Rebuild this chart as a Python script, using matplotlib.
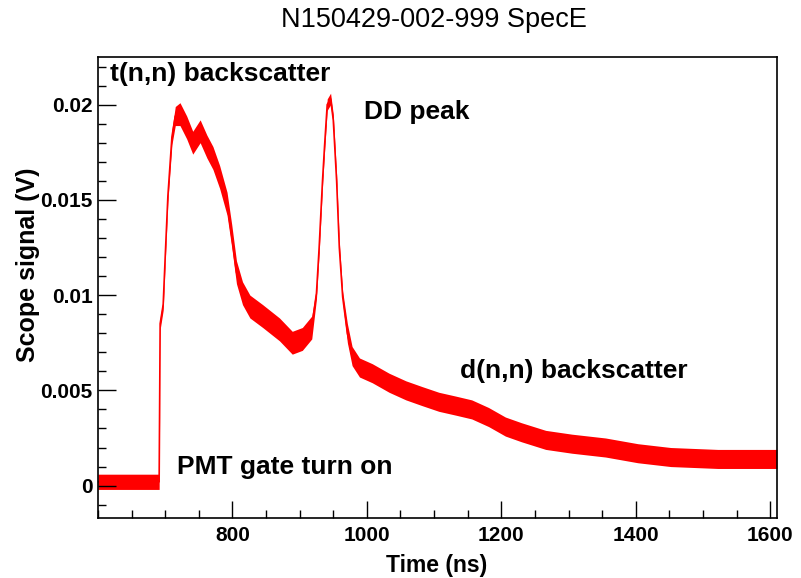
import numpy as np
import matplotlib
matplotlib.use("Agg")
import matplotlib.pyplot as plt
from matplotlib.ticker import MultipleLocator, FixedLocator, FixedFormatter

plt.rcParams['font.family'] = ['Liberation Sans', 'DejaVu Sans']

# trace (centre of the noisy band)
time_ns = [600, 691, 692.5, 697, 700, 704, 710, 715, 722, 732,
           741, 752, 762, 771, 781, 792, 799, 806, 815, 826,
           845, 870, 889, 904, 918, 925, 929, 934, 937, 941,
           946, 950, 955, 959, 964, 971, 978, 989, 1008, 1033,
           1058, 1082, 1107, 1132, 1156, 1181, 1206, 1230, 1266, 1305,
           1355, 1403, 1452, 1522, 1610]
signal_v = [0.0002, 0.0002, 0.0085, 0.0095, 0.0120, 0.0152, 0.0183, 0.0194, 0.0195, 0.0188,
            0.0180, 0.0186, 0.0178, 0.0172, 0.0162, 0.0148, 0.0131, 0.0112, 0.0101, 0.0094,
            0.0089, 0.0082, 0.0075, 0.0077, 0.0083, 0.0101, 0.0125, 0.0160, 0.0178, 0.0200,
            0.0203, 0.0192, 0.0160, 0.0125, 0.0099, 0.0080, 0.0068, 0.0062, 0.0059, 0.0054,
            0.0050, 0.0047, 0.0044, 0.0042, 0.0040, 0.0036, 0.0031, 0.0028, 0.0024, 0.0022,
            0.0020, 0.0017, 0.0015, 0.0014, 0.0014]
# half width of the noise band around the centre
noise_v = [0.0004, 0.0004, 0.0003, 0.0003, 0.0003, 0.0003, 0.0004, 0.0005,
           0.0006, 0.0006, 0.0006, 0.0006, 0.0006, 0.0006, 0.0006, 0.0006, 0.0006, 0.0006, 0.0006, 0.0006,
           0.0006, 0.0006, 0.0006, 0.0006, 0.0006,
           0.0003, 0.0003, 0.0003, 0.0003, 0.0003, 0.0003, 0.0003, 0.0003, 0.0003, 0.0003,
           0.0005, 0.0005, 0.0005, 0.0005, 0.0005, 0.0005, 0.0005, 0.0005, 0.0005, 0.0005,
           0.0005, 0.0005, 0.0005, 0.0005, 0.0005, 0.0005, 0.0005, 0.0005, 0.0005, 0.0005]

x_ticks = [800, 1000, 1200, 1400, 1600]
y_ticks = [0, 0.005, 0.01, 0.015, 0.02]
y_tick_labels = ['0', '0.005', '0.01', '0.015', '0.02']

notes = ['t(n,n) backscatter', 'DD peak', 'd(n,n) backscatter', 'PMT gate turn on']
note_x = [618, 995, 1138, 718]
note_y = [0.0216, 0.0196, 0.0060, 0.0010]

t = np.array(time_ns)
v = np.array(signal_v)
n = np.array(noise_v)

fig = plt.figure(figsize=(8.01, 5.78), dpi=100)
ax = fig.add_axes([0.1223, 0.1038, 0.8477, 0.7976])

ax.fill_between(t, v - n, v + n, color='red', linewidth=0)
ax.plot(t, v, color='red', linewidth=1.2)

ax.set_xlim(600, 1610)
ax.set_ylim(-0.0017, 0.0225)

ax.xaxis.set_major_locator(FixedLocator(x_ticks))
ax.xaxis.set_minor_locator(MultipleLocator(50))
ax.yaxis.set_major_locator(FixedLocator(y_ticks))
ax.yaxis.set_major_formatter(FixedFormatter(y_tick_labels))
ax.yaxis.set_minor_locator(MultipleLocator(0.001))

ax.tick_params(which='both', direction='in', top=False, right=False, width=1)
ax.tick_params(axis='x', which='major', length=12, pad=6, labelsize=15)
ax.tick_params(axis='x', which='minor', length=6)
ax.tick_params(axis='y', which='major', length=13, pad=4, labelsize=15)
ax.tick_params(axis='y', which='minor', length=6)
for lab in ax.get_xticklabels() + ax.get_yticklabels():
    lab.set_fontweight('bold')
for s in ax.spines.values():
    s.set_linewidth(1.2)

for txt, x, y in zip(notes, note_x, note_y):
    ax.text(x, y, txt, fontsize=19, fontweight='bold', ha='left', va='center')

fig.text(0.542, 0.965, 'N150429-002-999 SpecE', fontsize=19.5, ha='center', va='center')
fig.text(0.5455, 0.021, 'Time (ns)', fontsize=16.5, fontweight='bold', ha='center', va='center')
fig.text(0.035, 0.5415, 'Scope signal (V)', fontsize=18, fontweight='bold',
         ha='center', va='center', rotation=90)

fig.savefig('out.png', dpi=100)
